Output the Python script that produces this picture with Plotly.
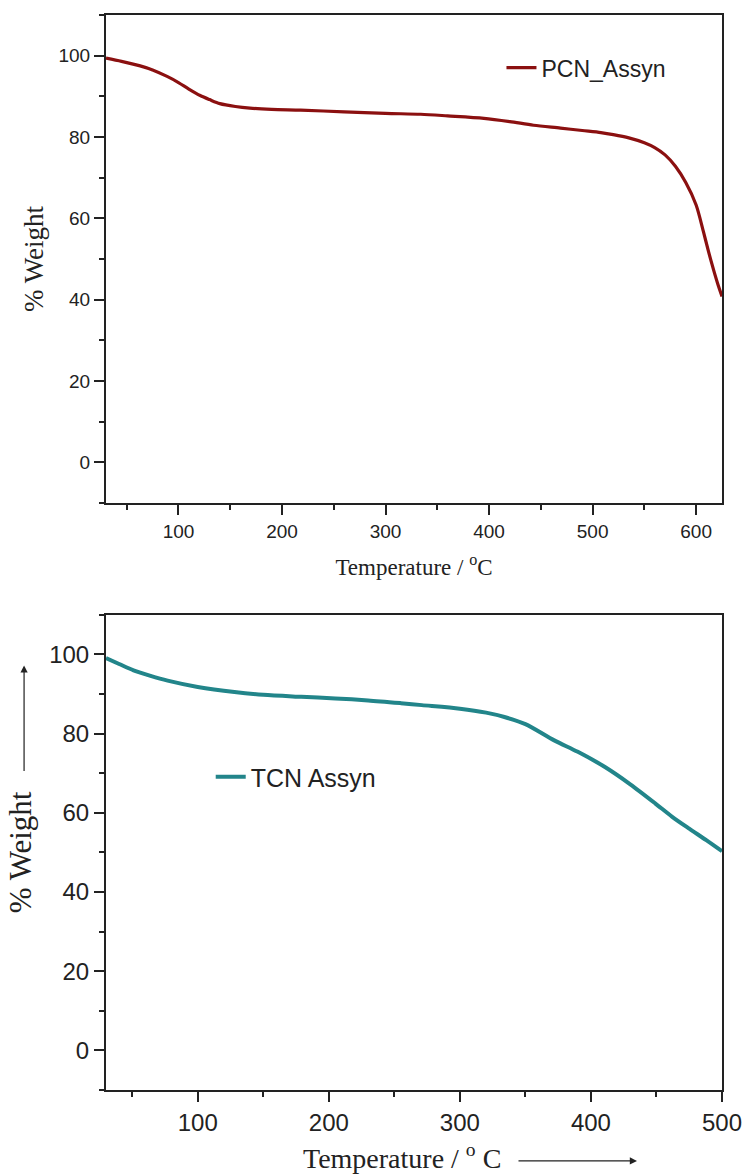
import plotly.graph_objects as go

# PCN_Assyn (top panel)
pcn_temp = [30, 45, 63, 75, 89, 100, 110, 121, 130, 140, 155, 169, 190, 218, 260, 300, 334, 360, 395, 420, 443, 469, 490, 508, 520, 535, 550, 560, 570, 580, 590, 600, 607, 612, 617, 621, 625]
pcn_wt = [99.4, 98.6, 97.5, 96.5, 94.9, 93.4, 91.8, 90.2, 89.2, 88.2, 87.5, 87.1, 86.8, 86.6, 86.2, 85.8, 85.6, 85.2, 84.6, 83.8, 82.9, 82.2, 81.6, 81.1, 80.6, 79.8, 78.6, 77.4, 75.6, 72.8, 68.8, 63.3, 56.8, 51.8, 47.2, 43.8, 40.8]

# TCN Assyn (bottom panel)
tcn_temp = [30, 40, 51, 64, 77, 100, 128, 150, 179, 205, 230, 255, 271, 300, 320, 334, 350, 372, 390, 411, 430, 449, 462, 475, 488, 500]
tcn_wt = [99.1, 97.6, 96.0, 94.6, 93.4, 91.8, 90.5, 89.8, 89.3, 88.9, 88.4, 87.7, 87.2, 86.3, 85.3, 84.2, 82.4, 78.3, 75.4, 71.5, 67.2, 62.4, 59.0, 56.0, 53.1, 50.3]

y_ticks = [0, 20, 40, 60, 80, 100]
top_x_ticks = [100, 200, 300, 400, 500, 600]
bot_x_ticks = [100, 200, 300, 400, 500]

red = "#8b1010"
teal = "#22858a"
axis_col = "#222222"

fig = go.Figure()
fig.add_trace(go.Scatter(x=pcn_temp, y=pcn_wt, mode="lines", name="PCN_Assyn",
                         line=dict(color=red, width=3.2, shape="spline", smoothing=0.8),
                         xaxis="x", yaxis="y", legend="legend"))
fig.add_trace(go.Scatter(x=tcn_temp, y=tcn_wt, mode="lines", name="TCN Assyn",
                         line=dict(color=teal, width=4, shape="spline", smoothing=0.8),
                         xaxis="x2", yaxis="y2", legend="legend2"))

tick_font_top = dict(family="Liberation Sans, Arial", size=19, color="#222")
tick_font_bot = dict(family="Liberation Sans, Arial", size=24, color="#222")
xtitle_font_top = dict(family="Liberation Serif, Times New Roman", size=23, color="#222")
ytitle_font_top = dict(family="Liberation Serif, Times New Roman", size=27, color="#222")
xtitle_font_bot = dict(family="Liberation Serif, Times New Roman", size=28, color="#222")
ytitle_font_bot = dict(family="Liberation Serif, Times New Roman", size=31, color="#222")

common_axis = dict(showline=True, linecolor=axis_col, linewidth=2, mirror=True,
                   ticks="outside", ticklen=10, tickwidth=1.5, tickcolor=axis_col,
                   showgrid=False, zeroline=False, automargin=False)

minor_x = dict(dtick=50, tick0=0, ticklen=5, tickwidth=1.5, tickcolor=axis_col, ticks="outside")
minor_y = dict(dtick=10, tick0=0, ticklen=5, tickwidth=1.5, tickcolor=axis_col, ticks="outside")

fig.update_layout(
    width=745, height=1174,
    margin=dict(l=106, r=23, t=15, b=84),
    paper_bgcolor="white", plot_bgcolor="white",
    xaxis=dict(domain=[0, 1], range=[30, 625], anchor="y", tickvals=top_x_ticks,
               tickfont=tick_font_top, minor=minor_x,
               title=dict(text="Temperature / <sup>o</sup>C", font=xtitle_font_top, standoff=18),
               **common_axis),
    yaxis=dict(domain=[0.546, 1.0], range=[-10, 110], anchor="x", tickvals=y_ticks,
               tickfont=tick_font_top, minor=minor_y,
               title=dict(text="% Weight", font=ytitle_font_top, standoff=7),
               **common_axis),
    xaxis2=dict(domain=[0, 1], range=[30, 500], anchor="y2", tickvals=bot_x_ticks,
                tickfont=tick_font_bot, minor=minor_x,
                **common_axis),
    yaxis2=dict(domain=[0, 0.442], range=[-10, 110], anchor="x2", tickvals=y_ticks,
                tickfont=tick_font_bot, minor=minor_y,
                title=dict(text="% Weight", font=ytitle_font_bot, standoff=8),
                **common_axis),
    legend=dict(x=0.642, y=0.971, xanchor="left", yanchor="top", bgcolor="rgba(0,0,0,0)",
                font=dict(family="Liberation Sans, Arial", size=23, color="#222")),
    legend2=dict(x=0.17, y=0.3125, xanchor="left", yanchor="top", bgcolor="rgba(0,0,0,0)",
                 font=dict(family="Liberation Sans, Arial", size=25, color="#222")),
    showlegend=True,
)

# bottom panel x-axis title, offset left of centre as in the original, followed by an arrow
fig.add_annotation(xref="paper", yref="paper", x=0.481, y=-0.0615, xanchor="center", yanchor="middle",
                   text="Temperature / <sup>o</sup> C", showarrow=False, font=xtitle_font_bot)
# arrows beside the bottom panel's axis titles
fig.add_annotation(xref="paper", yref="paper", x=-0.133, y=0.395, ax=0, ay=107,
                   text="", showarrow=True, arrowhead=2, arrowsize=1.2, arrowwidth=1.2,
                   arrowcolor="#222")
fig.add_annotation(xref="paper", yref="paper", x=0.862, y=-0.066, ax=-120, ay=0,
                   text="", showarrow=True, arrowhead=2, arrowsize=1.2, arrowwidth=1.2,
                   arrowcolor="#222")

fig.write_html("out.html")
